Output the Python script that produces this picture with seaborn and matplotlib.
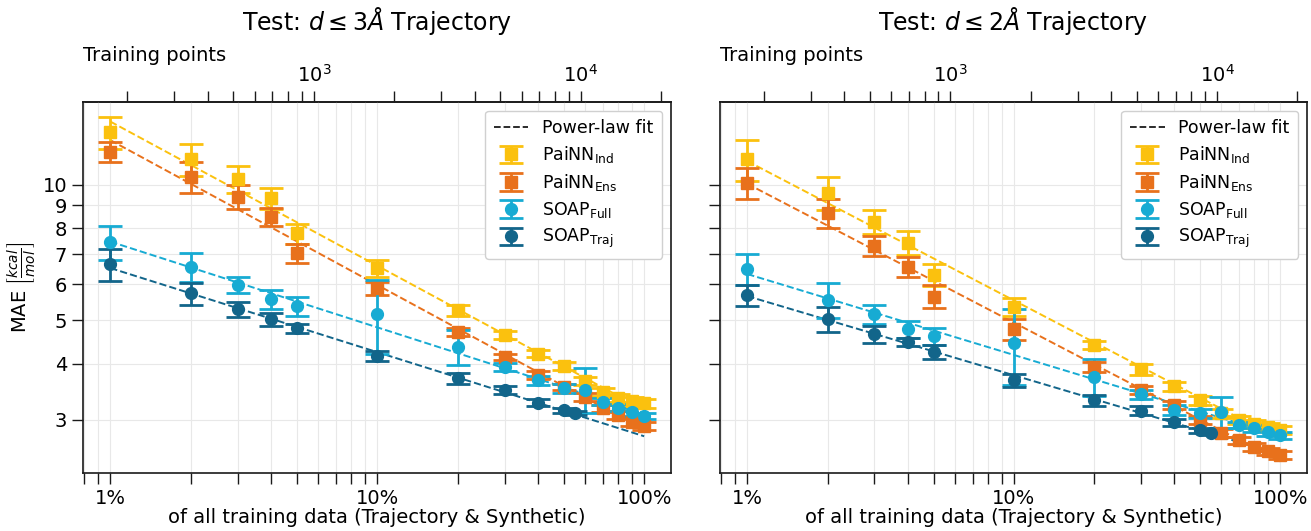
import numpy as np
import seaborn as sns
import matplotlib.pyplot as plt
from matplotlib.lines import Line2D
from matplotlib.ticker import FuncFormatter, NullLocator, FixedLocator, NullFormatter

# percent of all training data
pct = [1, 2, 3, 4, 5, 10, 20, 30, 40, 50, 60, 70, 80, 90, 100]
pct_traj = [1, 2, 3, 4, 5, 10, 20, 30, 40, 50, 55]
n_total = 17280  # training points at 100%

# Test: d <= 3 A
ind_3 = [13.1, 11.4, 10.3, 9.34, 7.80, 6.52, 5.26, 4.63, 4.21, 3.95, 3.66, 3.46, 3.35, 3.30, 3.26]
ind_3_err = [1.07, 0.93, 0.73, 0.50, 0.40, 0.29, 0.15, 0.10, 0.08, 0.08, 0.07, 0.07, 0.07, 0.07, 0.07]
ens_3 = [11.86, 10.43, 9.42, 8.50, 7.04, 5.89, 4.71, 4.14, 3.77, 3.55, 3.37, 3.18, 3.07, 2.96, 2.91]
ens_3_err = [0.60, 0.82, 0.58, 0.40, 0.35, 0.20, 0.10, 0.07, 0.07, 0.06, 0.07, 0.06, 0.06, 0.06, 0.06]
full_3 = [7.45, 6.57, 5.98, 5.57, 5.37, 5.16, 4.36, 3.93, 3.67, 3.52, 3.50, 3.29, 3.19, 3.12, 3.06]
full_3_err = [0.65, 0.48, 0.24, 0.27, 0.27, 0.97, 0.40, 0.08, 0.08, 0.08, 0.40, 0.06, 0.06, 0.06, 0.05]
traj_3 = [6.65, 5.73, 5.28, 5.02, 4.79, 4.16, 3.71, 3.49, 3.27, 3.15, 3.10]
traj_3_err = [0.54, 0.33, 0.21, 0.17, 0.12, 0.10, 0.10, 0.07, 0.06, 0.04, 0.03]

# Test: d <= 2 A
ind_2 = [11.4, 9.61, 8.28, 7.44, 6.30, 5.35, 4.40, 3.88, 3.56, 3.31, 3.10, 3.00, 2.94, 2.89, 2.85]
ind_2_err = [1.20, 0.80, 0.50, 0.45, 0.35, 0.25, 0.10, 0.10, 0.08, 0.07, 0.07, 0.06, 0.06, 0.06, 0.06]
ens_2 = [10.09, 8.65, 7.32, 6.57, 5.64, 4.77, 3.93, 3.49, 3.23, 2.99, 2.80, 2.70, 2.61, 2.55, 2.50]
ens_2_err = [0.80, 0.65, 0.37, 0.32, 0.33, 0.25, 0.10, 0.07, 0.07, 0.06, 0.06, 0.05, 0.05, 0.05, 0.05]
full_2 = [6.49, 5.54, 5.16, 4.77, 4.60, 4.44, 3.74, 3.42, 3.15, 3.10, 3.12, 2.92, 2.87, 2.81, 2.77]
full_2_err = [0.52, 0.50, 0.25, 0.20, 0.20, 0.85, 0.35, 0.08, 0.08, 0.07, 0.25, 0.05, 0.05, 0.05, 0.05]
traj_2 = [5.68, 5.02, 4.65, 4.47, 4.24, 3.67, 3.31, 3.14, 2.96, 2.84, 2.80]
traj_2_err = [0.30, 0.33, 0.20, 0.10, 0.15, 0.12, 0.10, 0.07, 0.05, 0.04, 0.03]

labels = [r'PaiNN$_{\mathrm{Ind}}$', r'PaiNN$_{\mathrm{Ens}}$',
          r'SOAP$_{\mathrm{Full}}$', r'SOAP$_{\mathrm{Traj}}$']
colors = ['#FBC10E', '#E8711C', '#17ABD3', '#12658A']
markers = ['s', 's', 'o', 'o']

top_major = [1000, 10000]
top_minor = [200, 300, 400, 500, 600, 700, 800, 900,
             2000, 3000, 4000, 5000, 6000, 7000, 8000, 9000, 20000]

sns.set_theme(style='ticks')
plt.rcParams['font.family'] = ['DejaVu Sans']
for key in ['text.color', 'axes.labelcolor', 'xtick.color', 'ytick.color']:
    plt.rcParams[key] = 'black'


def draw_panel(ax, series, title):
    for (x, y, e), lab, c, m in zip(series, labels, colors, markers):
        x = np.array(x, float)
        y = np.array(y, float)
        # power-law fit in log-log space
        k, b = np.polyfit(np.log10(x), np.log10(y), 1)
        xf = np.array([1.0, 100.0])
        sns.lineplot(x=xf, y=10 ** (b + k * np.log10(xf)), ax=ax, color=c,
                     linestyle='--', lw=1.4, zorder=2)
    handles = [Line2D([], [], color='k', ls='--', lw=1.3, label='Power-law fit')]
    for (x, y, e), lab, c, m in zip(series, labels, colors, markers):
        h = ax.errorbar(x, y, yerr=e, fmt=m, color=c, ms=8.5, capsize=8.5,
                        capthick=2.0, elinewidth=2.0, label=lab, zorder=3)
        handles.append(h)

    ax.set_xscale('log')
    ax.set_yscale('log')
    ax.set_xlim(0.79, 126)
    ax.set_ylim(2.28, 15.3)
    ax.yaxis.set_major_locator(FixedLocator([3, 4, 5, 6, 7, 8, 9, 10]))
    ax.yaxis.set_minor_locator(NullLocator())
    ax.yaxis.set_major_formatter(FuncFormatter(lambda v, p: f'{v:g}'))
    ax.xaxis.set_major_formatter(FuncFormatter(lambda v, p: f'{v:g}%'))
    ax.grid(True, which='both', axis='x', color='#e8e8e8', lw=0.8)
    ax.grid(True, which='major', axis='y', color='#e8e8e8', lw=0.8)
    ax.tick_params(which='both', length=8, width=1, labelsize=14, color='k')
    for s in ax.spines.values():
        s.set_color('k')
        s.set_linewidth(1.2)
    ax.set_xlabel('of all training data (Trajectory & Synthetic)', fontsize=14, labelpad=0)

    top = ax.secondary_xaxis('top', functions=(lambda p: np.asarray(p) * n_total / 100,
                                                lambda n: np.asarray(n) * 100 / n_total))
    top.xaxis.set_major_locator(FixedLocator(top_major))
    top.xaxis.set_minor_locator(FixedLocator(top_minor))
    top.xaxis.set_minor_formatter(NullFormatter())
    top.tick_params(which='both', length=8, width=1, labelsize=14, color='k')
    top.set_xlabel('Training points', fontsize=14, loc='left', labelpad=2)
    ax.set_title(title, fontsize=17, pad=12)

    ax.legend(handles=handles, loc='upper right', fontsize=12.5, frameon=True,
              edgecolor='#d0d0d0', framealpha=1, handlelength=2.0,
              borderpad=0.5, labelspacing=0.4)


fig = plt.figure(figsize=(13.11, 5.31), dpi=100)
ax1 = fig.add_axes([0.0633, 0.109, 0.4485, 0.699])
ax2 = fig.add_axes([0.5492, 0.109, 0.4478, 0.699], sharey=ax1)

draw_panel(ax1, [(pct, ind_3, ind_3_err), (pct, ens_3, ens_3_err),
                 (pct, full_3, full_3_err), (pct_traj, traj_3, traj_3_err)],
           r'Test: $d \leq 3Å$ Trajectory')
draw_panel(ax2, [(pct, ind_2, ind_2_err), (pct, ens_2, ens_2_err),
                 (pct, full_2, full_2_err), (pct_traj, traj_2, traj_2_err)],
           r'Test: $d \leq 2Å$ Trajectory')

ax1.set_ylabel(r'MAE $\left[\frac{kcal}{mol}\right]$', fontsize=14)
plt.setp(ax2.get_yticklabels(), visible=False)

fig.savefig('out.png', dpi=100)
